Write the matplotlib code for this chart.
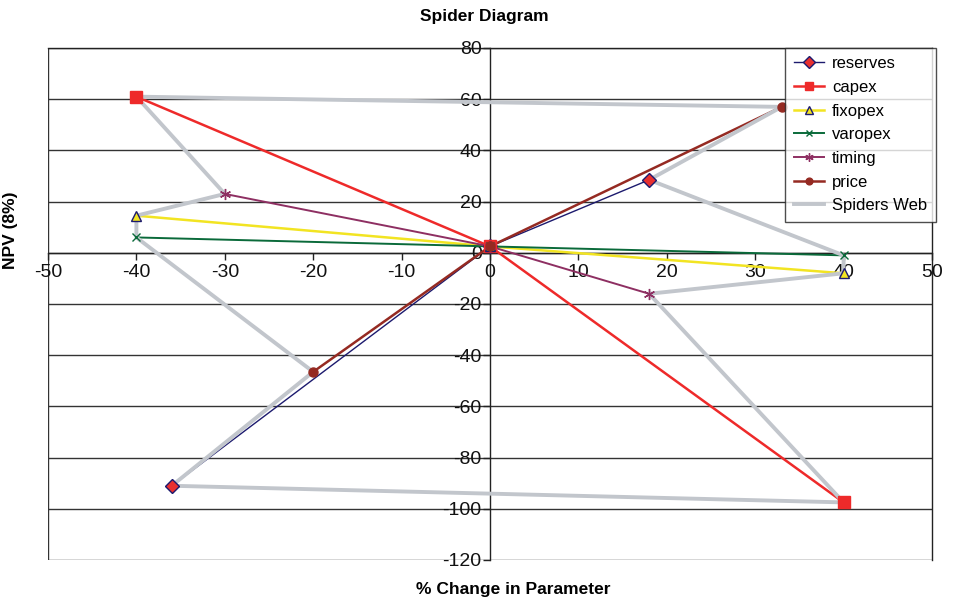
import matplotlib
matplotlib.use("Agg")
import matplotlib.pyplot as plt

plt.rcParams['font.family'] = ['Liberation Sans', 'DejaVu Sans']

# data: % change in parameter vs NPV (8%)
reserves_x = [-36, 0, 18]
reserves_y = [-91, 2.5, 28.5]
capex_x = [-40, 0, 40]
capex_y = [61, 2.5, -97.5]
fixopex_x = [-40, 0, 40]
fixopex_y = [14.5, 2.5, -8]
varopex_x = [-40, 0, 40]
varopex_y = [6, 2.5, -1]
timing_x = [-30, 0, 18]
timing_y = [23, 2.5, -16]
price_x = [-20, 0, 33]
price_y = [-46.5, 2.5, 57]
web_x = [-40, 33, 18, 40, 40, 18, 40, -36, -20, -40, -40, -30, -40]
web_y = [61, 57, 28.5, -1, -8, -16, -97.5, -91, -46.5, 6, 14.5, 23, 61]

x_ticks = list(range(-50, 51, 10))
y_ticks = list(range(-120, 81, 20))

fig = plt.figure(figsize=(9.54, 6.01), dpi=100)
ax = fig.add_axes([48/954, 1-560/601, 884/954, 512/601])
ax.set_xlim(-50, 50)
ax.set_ylim(-120, 80)

for yv in y_ticks:
    ax.axhline(yv, color='#333333', lw=1.0, zorder=1)
ax.axvline(-50, color='#333333', lw=1.0, zorder=1)

series = [
    ("reserves", reserves_x, reserves_y, '#1c1a6e', 1.0, 'D', 7.5, '#e8302f', '#1c1a6e'),
    ("capex", capex_x, capex_y, '#ee2a2a', 1.8, 's', 8, '#ee2a2a', '#ee2a2a'),
    ("fixopex", fixopex_x, fixopex_y, '#f2e422', 1.8, '^', 7, '#f2e422', '#1c1a6e'),
    ("varopex", varopex_x, varopex_y, '#0a6a3a', 1.4, 'x', 6, '#0a6a3a', '#0a6a3a'),
    ("timing", timing_x, timing_y, '#8e2f62', 1.4, (6, 2, 0), 8, '#8e2f62', '#8e2f62'),
    ("price", price_x, price_y, '#952a22', 1.8, 'o', 6.5, '#952a22', '#952a22'),
]

handles = []
for name, xs, ys, col, lw, mk, ms, mfc, mec in series:
    ax.plot(xs, ys, color=col, lw=lw, zorder=2, solid_capstyle='butt')
    ax.plot(xs, ys, ls='none', marker=mk, ms=ms, mfc=mfc, mec=mec, mew=1.0, zorder=4)
    h, = ax.plot([], [], color=col, lw=lw, marker=mk, ms=ms*0.75, mfc=mfc, mec=mec, mew=1.0, label=name)
    handles.append(h)

ax.plot(web_x, web_y, color='#c2c6cc', lw=2.8, zorder=3)
hw, = ax.plot([], [], color='#c2c6cc', lw=2.8, label='Spiders Web')
handles.append(hw)

# axes crossing at zero
ax.spines['left'].set_position(('data', 0))
ax.spines['bottom'].set_position(('data', 0))
for s in ['left', 'bottom', 'top', 'right']:
    ax.spines[s].set_color('#222222')
    ax.spines[s].set_linewidth(1.0)
    ax.spines[s].set_zorder(1.5)

ax.set_xticks(x_ticks)
ax.set_yticks(y_ticks)
ax.set_xticklabels([str(v) for v in x_ticks])
ax.set_yticklabels([str(v) for v in y_ticks])
ax.tick_params(axis='both', direction='out', length=5, width=1, colors='#222222',
               labelsize=14, labelcolor='#111111')
ax.tick_params(axis='x', pad=3)
ax.tick_params(axis='y', pad=1)

ax.set_xlabel('% Change in Parameter', fontsize=12.5, fontweight='bold')
ax.xaxis.set_label_coords(0.526, -0.042)
ax.set_ylabel('NPV (8%)', fontsize=12.5, fontweight='bold')
ax.yaxis.set_label_coords(-0.034, 0.645)
fig.text(484/954, 1-16/601, 'Spider Diagram', fontsize=12.5, fontweight='bold',
         ha='center', va='center')

leg = ax.legend(handles=handles, loc='upper right', bbox_to_anchor=(1.004, 1.0),
                borderaxespad=0, fontsize=12, frameon=True, fancybox=False,
                handlelength=1.8, handletextpad=0.5, labelspacing=0.52, borderpad=0.5)
leg.get_frame().set_edgecolor('#222222')
leg.get_frame().set_linewidth(1.0)
leg.set_zorder(5)

fig.savefig('out.png', dpi=100)
